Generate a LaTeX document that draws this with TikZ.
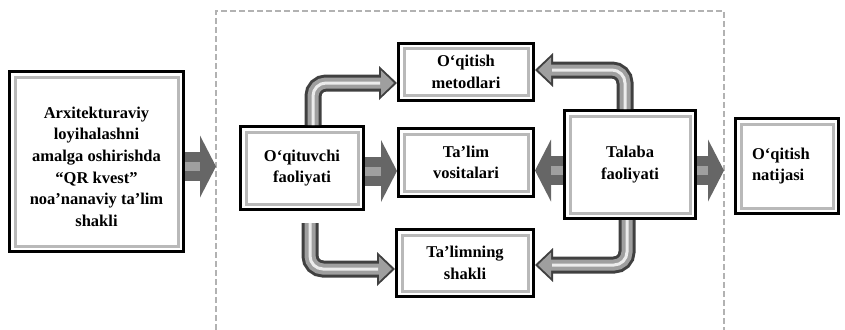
\documentclass[tikz,border=0pt]{standalone}
\usepackage{fontspec}
\setmainfont{Liberation Serif}
\usetikzlibrary{arrows.meta}

\tikzset{
  box/.style={draw=black, line width=3pt, fill=white, align=center, inner sep=0pt,
    font=\bfseries\fontsize{16.5}{21.7}\selectfont,
    path picture={\draw[gray!55, line width=3pt]
      ([shift={(5.5pt,5.5pt)}]path picture bounding box.south west) rectangle
      ([shift={(-5.5pt,-5.5pt)}]path picture bounding box.north east);}},
  fatarrow/.style={line width=29pt, draw=gray!80!black,
    -{Triangle[length=16pt, width=62pt, line width=0pt]},
    postaction={draw=gray!75, line width=9pt, shorten >=16pt, -}},
  bentarrow/.style={line width=17pt, draw=gray!50!black, rounded corners=13pt,
    -{Triangle[length=18pt, width=34pt, line width=0pt]},
    postaction={draw=gray!75, line width=11pt, shorten >=3pt,
      -{Triangle[length=13pt, width=25pt, line width=0pt]}},
    postaction={draw=gray!15, line width=3pt, shorten >=17pt, -}}
}

\begin{document}
\begin{tikzpicture}[x=1pt, y=-1pt]
  \useasboundingbox (0,0) rectangle (845,329);

  % Draw the dashed frame
  \coordinate (frameL) at (216,11);
  \coordinate (frameR) at (724,11);
  \coordinate (frameLB) at (216,330);
  \coordinate (frameRB) at (724,330);
  \draw[gray!60, line width=1.5pt, dash pattern=on 6pt off 3pt]
    (frameLB) -- (frameL) -- (frameR) -- (frameRB);

  % Draw the boxes
  \node[box, minimum width=174pt, minimum height=180pt] (arch) at (96.5,161.5)
    {\mbox{}\\ Arxitekturaviy\\ loyihalashni\\ amalga oshirishda\\ “QR kvest”\\ noa’nanaviy ta’lim\\ shakli};
  \node[box, minimum width=123pt, minimum height=83pt] (teach) at (302,168) {O‘qituvchi\\ faoliyati};
  \node[box, minimum width=135pt, minimum height=57pt] (metod) at (466,72) {O‘qitish\\ metodlari};
  \node[box, minimum width=135pt, minimum height=68pt] (vosita) at (466,162.5) {Ta’lim\\ vositalari};
  \node[box, minimum width=137pt, minimum height=67pt] (shakl) at (465,263) {Ta’limning\\ shakli};
  \node[box, minimum width=131pt, minimum height=108pt] (talaba) at (630,164.5) {Talaba\\ faoliyati};
  \node[box, minimum width=103pt, minimum height=95pt, text width=70pt, align=left] (natija) at (787,166)
    {O‘qitish\\ natijasi};

  % Draw the straight arrows
  \draw[fatarrow] ([yshift=-5pt]arch.east) -- ([yshift=-5pt]arch.east -| frameL);
  \draw[fatarrow] ([yshift=-3pt]teach.east) -- ([yshift=-3pt]teach.east -| vosita.west);
  \draw[fatarrow] ([yshift=-6pt]talaba.west) -- ([yshift=-6pt]talaba.west -| vosita.east);
  \draw[fatarrow] ([yshift=-6pt]talaba.east) -- ([yshift=-6pt]talaba.east -| frameR);

  % Draw the bent arrows
  \draw[bentarrow] ([xshift=11pt]teach.north) |- ([yshift=-11pt]metod.west);
  \draw[bentarrow] ([shift={(8pt,-12pt)}]teach.south) |- ([yshift=-6pt]shakl.west);
  \draw[bentarrow] ([xshift=-5pt]talaba.north) |- ([yshift=2pt]metod.east);
  \draw[bentarrow] ([xshift=-3pt]talaba.south) |- ([yshift=-2pt]shakl.east);
\end{tikzpicture}
\end{document}
